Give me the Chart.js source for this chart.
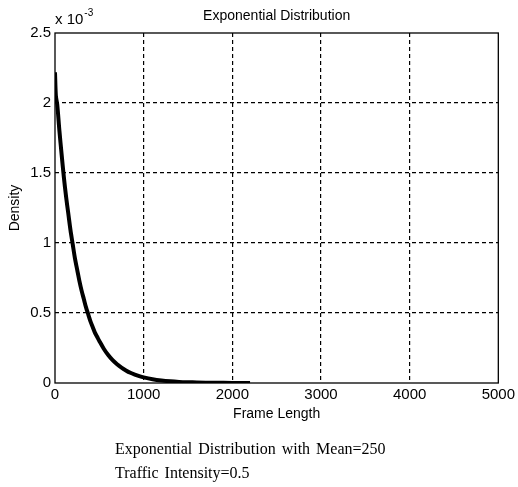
<!DOCTYPE html>
<html>
<head>
<meta charset="utf-8">
<title>Exponential Distribution</title>
<script src="https://cdn.jsdelivr.net/npm/chart.js@4/dist/chart.umd.min.js"></script>
<style>
  html, body { margin: 0; padding: 0; background: #fff; }
  canvas { display: block; }
</style>
</head>
<body>
<canvas id="myChart" width="518" height="487"></canvas>
<script>
// frame length (x) and density in units of 1e-3 (y)
const frameLength = [0, 10, 25, 50, 75, 100, 125, 150, 175, 200, 225, 250, 275, 300, 325, 350, 375, 400,
  425, 450, 475, 500, 550, 600, 650, 700, 750, 800, 850, 900, 950, 1000, 1100, 1200, 1300, 1400,
  1500, 1600, 1800, 2000, 2200];
const densityE3 = [2.22, 2.05, 1.99, 1.80, 1.63, 1.47, 1.33, 1.21, 1.09, 0.99, 0.89, 0.81, 0.73, 0.66, 0.60,
  0.54, 0.49, 0.44, 0.40, 0.36, 0.33, 0.30, 0.245, 0.20, 0.163, 0.134, 0.11, 0.09, 0.073, 0.06, 0.049,
  0.04, 0.027, 0.018, 0.012, 0.008, 0.0055, 0.0037, 0.0016, 0.0007, 0.0003];

const xTicks = [0, 1000, 2000, 3000, 4000, 5000];
const yTicks = [0, 0.5, 1, 1.5, 2, 2.5];

const titleText = 'Exponential Distribution';
const xTitle = 'Frame Length';
const yTitle = 'Density';
const captionLines = ['Exponential Distribution with Mean=250', 'Traffic Intensity=0.5'];

const sans = '"Liberation Sans", Arial, Helvetica, sans-serif';
const serif = '"Liberation Serif", "Times New Roman", serif';

const points = frameLength.map((x, i) => ({ x: x, y: densityE3[i] }));

// everything outside the axes: title, labels, exponent, box, caption
const decorations = {
  id: 'decorations',
  afterDraw(chart) {
    const ctx = chart.ctx;
    const a = chart.chartArea;
    ctx.save();
    ctx.strokeStyle = '#000';
    ctx.lineWidth = 1.3;
    ctx.setLineDash([]);
    ctx.strokeRect(a.left, a.top, a.right - a.left, a.bottom - a.top);

    ctx.fillStyle = '#000';
    ctx.textAlign = 'center';
    ctx.textBaseline = 'middle';
    ctx.font = '14px ' + sans;
    ctx.fillText(titleText, (a.left + a.right) / 2, 16);
    ctx.fillText(xTitle, (a.left + a.right) / 2, 414);

    ctx.save();
    ctx.translate(15, (a.top + a.bottom) / 2);
    ctx.rotate(-Math.PI / 2);
    ctx.fillText(yTitle, 0, 0);
    ctx.restore();

    ctx.textAlign = 'left';
    ctx.font = '15px ' + sans;
    ctx.fillText('x 10', a.left, 20);
    const w = ctx.measureText('x 10').width;
    ctx.font = '10px ' + sans;
    ctx.fillText('-3', a.left + w + 1, 13);

    ctx.font = '16px ' + serif;
    ctx.wordSpacing = '2px';
    ctx.fillText(captionLines[0], 115, 450);
    ctx.fillText(captionLines[1], 115, 474);
    ctx.restore();
  }
};

const edgeOff = (ctx) => (ctx.index === 0 || ctx.index === ctx.scale.ticks.length - 1) ? 'rgba(0,0,0,0)' : '#000';

const config = {
  type: 'line',
  data: {
    datasets: [{
      data: points,
      borderColor: '#000',
      borderWidth: 4,
      pointRadius: 0,
      tension: 0.3,
      fill: false
    }]
  },
  options: {
    responsive: false,
    animation: false,
    layout: { padding: { left: 0, right: 18, top: 33, bottom: 0 } },
    plugins: { legend: { display: false }, tooltip: { enabled: false }, title: { display: false } },
    scales: {
      x: {
        type: 'linear',
        min: 0,
        max: 5000,
        afterBuildTicks: (s) => { s.ticks = xTicks.map(v => ({ value: v })); },
        afterFit: (s) => { s.height = 104; },
        ticks: { color: '#000', font: { size: 15, family: sans }, padding: 3, maxRotation: 0, callback: (v) => String(v) },
        grid: { color: edgeOff, lineWidth: 1.2, drawTicks: false },
        border: { display: false, dash: [4, 3] }
      },
      y: {
        type: 'linear',
        min: 0,
        max: 2.5,
        afterBuildTicks: (s) => { s.ticks = yTicks.map(v => ({ value: v })); },
        afterFit: (s) => { s.width = 55; },
        ticks: { color: '#000', font: { size: 15, family: sans }, padding: 4, callback: (v) => String(v) },
        grid: { color: edgeOff, lineWidth: 1.2, drawTicks: false },
        border: { display: false, dash: [4, 3] }
      }
    }
  },
  plugins: [decorations]
};

new Chart(document.getElementById('myChart').getContext('2d'), config);
</script>
</body>
</html>
